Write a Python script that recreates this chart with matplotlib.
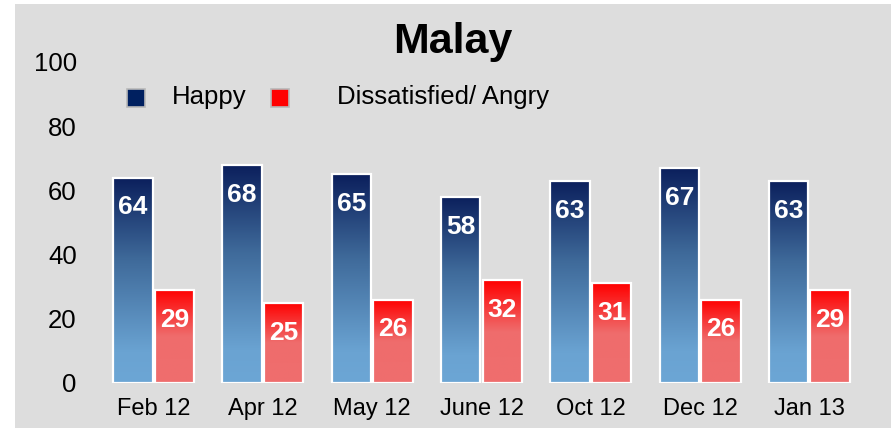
import numpy as np
import matplotlib.pyplot as plt
import matplotlib.patches as mpatches
from matplotlib.colors import LinearSegmentedColormap

plt.rcParams["font.family"] = ["Liberation Sans", "DejaVu Sans"]

periods = ["Feb 12", "Apr 12", "May 12", "June 12", "Oct 12", "Dec 12", "Jan 13"]
happy = [64, 68, 65, 58, 63, 67, 63]
angry = [29, 25, 26, 32, 31, 26, 29]
series_names = ["Happy", "Dissatisfied/ Angry"]

BG = "#dddddd"
W, H = 893, 430

# vertical gradients, light at the bottom (0) and saturated at the top (1)
blue_cmap = LinearSegmentedColormap.from_list(
    "blue_grad", [(0.0, "#6ca6d5"), (0.15, "#6aa3d2"), (0.6, "#3f6a9a"), (1.0, "#0b1f5c")])
red_cmap = LinearSegmentedColormap.from_list(
    "red_grad", [(0.0, "#ef6e6e"), (0.5, "#ef6c6c"), (1.0, "#ff0000")])

fig = plt.figure(figsize=(W / 100, H / 100), dpi=100)
fig.patch.set_facecolor("white")
fig.patches.append(mpatches.Rectangle(
    (15 / W, 2 / H), 876 / W, 424 / H, transform=fig.transFigure,
    facecolor=BG, edgecolor="none", zorder=-10))

ax = fig.add_axes([99 / W, (H - 383) / H, 765 / W, 321 / H])
ax.set_facecolor("none")

x = np.arange(len(periods))
bw = 0.36
offs = 0.19
grad = np.linspace(0, 1, 256).reshape(-1, 1)

for vals, cmap, off in [(happy, blue_cmap, -offs), (angry, red_cmap, offs)]:
    for xi, v in zip(x, vals):
        x0 = xi + off - bw / 2
        ax.imshow(grad, cmap=cmap, origin="lower", aspect="auto",
                  extent=[x0, x0 + bw, 0, v], zorder=2, interpolation="bicubic")
        ax.add_patch(mpatches.Rectangle((x0, 0), bw, v, facecolor="none",
                                        edgecolor="white", linewidth=1.6, zorder=3))
        ax.annotate(str(v), (xi + off, v), xytext=(0, -21.5), textcoords="offset points",
                    ha="center", va="center", color="white", fontsize=19,
                    fontweight="bold", zorder=4)

ax.set_xlim(-0.5, len(periods) - 0.5)
ax.set_ylim(0, 100)
ax.set_yticks(range(0, 101, 20))
ax.set_xticks(x)
ax.set_xticklabels(periods)
ax.tick_params(axis="y", length=0, pad=16, labelsize=18.5)
ax.tick_params(axis="x", length=0, pad=11, labelsize=17)
for s in ax.spines.values():
    s.set_visible(False)

fig.text(453 / W, 1 - 42 / H, "Malay", ha="center", va="center",
         fontsize=31, fontweight="bold")

# legend drawn by hand: swatch + label
for (sx, tx), color, name in zip([(127, 172), (271, 337)], ["#002060", "#ff0000"], series_names):
    fig.patches.append(mpatches.Rectangle(
        (sx / W, 1 - 107 / H), 18 / W, 18 / H, transform=fig.transFigure,
        facecolor=color, edgecolor="#b8b8b8", linewidth=1.2, zorder=5))
    fig.text(tx / W, 1 - 97 / H, name, ha="left", va="center", fontsize=18.5)

fig.savefig("out.png", dpi=100, facecolor=fig.get_facecolor())
